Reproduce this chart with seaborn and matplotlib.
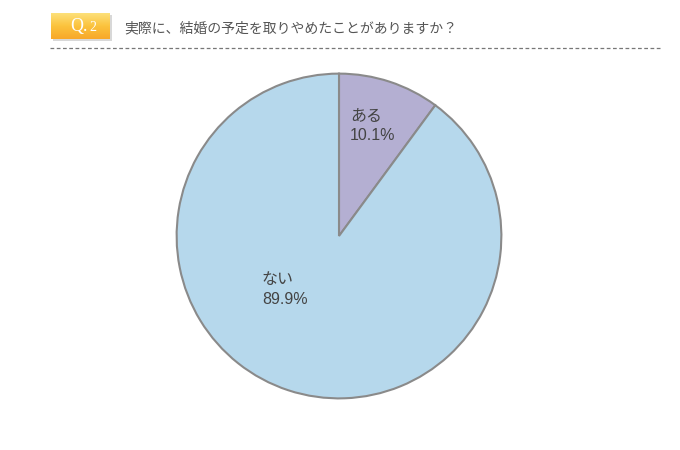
import matplotlib
matplotlib.use("Agg")
import matplotlib.pyplot as plt
import seaborn as sns
import numpy as np
from matplotlib.patches import Rectangle
from matplotlib.colors import LinearSegmentedColormap

sns.set_theme(style="white")
plt.rcParams['font.family'] = ['Liberation Sans', 'Noto Sans CJK JP', 'DejaVu Sans']

categories = ["ある", "ない"]
values = [10.1, 89.9]
colors = ["#b4afd2", "#b6d8ec"]
title = "実際に、結婚の予定を取りやめたことがありますか？"
badge_q = "Q."
badge_n = "2"

W, H = 680, 450
fig = plt.figure(figsize=(W / 100, H / 100), dpi=100)
fig.patch.set_facecolor("white")

# header
hdr = fig.add_axes([0, 0, 1, 1])
hdr.set_xlim(0, W)
hdr.set_ylim(H, 0)
hdr.axis("off")
# shadow
hdr.add_patch(Rectangle((53, 15), 59, 26, facecolor="#d8d8d8", edgecolor="none"))
cmap = LinearSegmentedColormap.from_list("b", ["#fde07a", "#fbc33d", "#f8a82a"])
grad = np.linspace(0, 1, 64).reshape(-1, 1)
hdr.imshow(grad, cmap=cmap, extent=(51, 110, 39, 13), aspect="auto", zorder=2)
hdr.set_xlim(0, W)
hdr.set_ylim(H, 0)
hdr.text(88, 26, badge_q, color="white", fontsize=13, ha="right", va="center",
         family=["Liberation Serif"], zorder=3)
hdr.text(89, 27.5, badge_n, color="white", fontsize=10, ha="left", va="center",
         family=["Liberation Serif"], zorder=3)
hdr.text(124, 28, title, color="#555555", fontsize=10, ha="left", va="center",
         family=["Noto Sans CJK JP"])
hdr.plot([50, 662], [48, 48], color="#777777", lw=0.9, ls=(0, (3, 2)))

# pie
cx, cy, r = 339, 236, 164
ax = fig.add_axes([(cx - r) / W, (H - cy - r) / H, 2 * r / W, 2 * r / H])
wedges, _ = ax.pie(values, colors=colors, startangle=90, counterclock=False,
                   radius=1, wedgeprops=dict(edgecolor="#8a8a8a", linewidth=1.5))
ax.set_xlim(-1.01, 1.01)
ax.set_ylim(-1.01, 1.01)
ax.set_aspect("equal")
ax.axis("off")

label_pos = [((350 - cx) / r, (cy - 125) / r), ((261 - cx) / r, (cy - 290) / r)]
for cat, v, (x, y) in zip(categories, values, label_pos):
    ax.text(x, y, f"{cat}\n{v:.1f}%", fontsize=11.5, color="#444444", ha="left",
            va="center", linespacing=1.35)

fig.savefig("out.png", dpi=100)
